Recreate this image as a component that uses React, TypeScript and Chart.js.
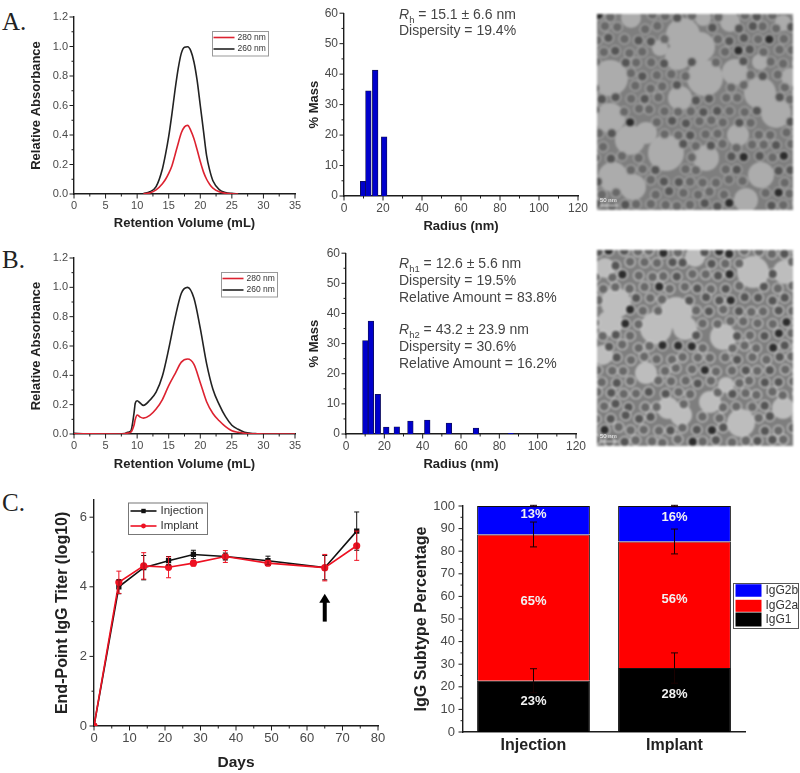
import React, { useEffect, useRef } from "react";
import { Chart, registerables } from "chart.js";

Chart.register(...registerables);

const SANS = '"Liberation Sans", Arial, sans-serif';
const SERIF = '"Liberation Serif", "Times New Roman", serif';

// --- Panel A, chromatogram
const volumeA = [11, 12, 13, 14, 14.5, 15, 15.5, 16, 16.5, 17, 17.5, 18, 18.5, 19, 19.5, 20, 20.5, 21, 21.5, 22, 23, 24, 25, 26];
const a260 = [0.003, 0.015, 0.05, 0.17, 0.27, 0.39, 0.54, 0.705, 0.85, 0.955, 0.995, 0.998, 0.97, 0.895, 0.77, 0.6, 0.43, 0.26, 0.16, 0.09, 0.03, 0.01, 0.004, 0.001];
const a280 = [0.001, 0.007, 0.028, 0.07, 0.1, 0.14, 0.19, 0.265, 0.343, 0.415, 0.455, 0.465, 0.43, 0.375, 0.3, 0.22, 0.15, 0.1, 0.065, 0.04, 0.015, 0.005, 0.001, 0];

// --- Panel B, chromatogram
const volumeB = [0, 2, 7, 8, 8.5, 9, 9.5, 9.7, 10, 10.5, 11, 12, 13, 14, 15, 16, 17, 18, 19, 20, 21, 22, 23, 24, 25, 26, 27, 28, 29, 30, 33, 35];
const b260 = [0.005, 0.002, 0, 0.003, 0.012, 0.02, 0.14, 0.21, 0.227, 0.21, 0.195, 0.23, 0.285, 0.395, 0.58, 0.79, 0.96, 1.0, 0.925, 0.72, 0.48, 0.305, 0.2, 0.118, 0.06, 0.032, 0.012, 0.004, 0.002, 0.001, 0.001, 0];
const b280 = [0.002, 0.001, 0, 0.002, 0.006, 0.012, 0.06, 0.1, 0.13, 0.115, 0.108, 0.127, 0.17, 0.235, 0.33, 0.41, 0.49, 0.511, 0.475, 0.35, 0.22, 0.14, 0.09, 0.05, 0.022, 0.012, 0.005, 0.002, 0.001, 0, 0, 0];

// --- Size histograms
const radiusA = [9.8, 12.5, 16, 20.6];
const massA = [4.8, 34.5, 41.3, 19.4];
const radiusB = [10.1, 13, 16.6, 21, 26.5, 33.6, 42.4, 53.7, 67.8, 86];
const massB = [31, 37.5, 13.2, 2.3, 2.4, 4.3, 4.6, 3.6, 2, 0.2];

// --- Panel C, titers
const days = [0, 7, 14, 21, 28, 37, 49, 65, 74];
const injection = [0, 4.0, 4.55, 4.75, 4.93, 4.87, 4.75, 4.55, 5.6];
const injectionErr = [0, 0.2, 0.35, 0.12, 0.12, 0.1, 0.13, 0.35, 0.55];
const implant = [0, 4.13, 4.6, 4.56, 4.68, 4.87, 4.68, 4.55, 5.18];
const implantErr = [0, 0.32, 0.38, 0.3, 0.08, 0.17, 0.07, 0.38, 0.42];
const arrowDay = 65;
const arrowFrom = 3.0;
const arrowTo = 3.8;

// --- Panel C, subtypes
const groups = ["Injection", "Implant"];
const igg1 = [22.7, 28.3];
const igg2a = [64.7, 56];
const igg2b = [12.6, 15.7];
const igg1Err = [5.3, 6.7];
const igg2aErr = [5.5, 5.5];
const igg2bErr = [0.3, 0.3];
const igg1Labels = ["23%", "28%"];
const igg2aLabels = ["65%", "56%"];
const igg2bLabels = ["13%", "16%"];
const igg1LabelY = [13.4, 16.7];
const igg2aLabelY = [57.6, 58.8];
const igg2bLabelY = [96.2, 94.9];

const TICK = "#4a4a4a";
const AXIS = "#1c1c1c";

const decor = {
  id: "decor",
  afterDatasetsDraw(chart: any, _a: any, o: any) {
    const ctx = chart.ctx;
    const ca = chart.chartArea;
    ctx.save();
    // major and minor outward ticks
    ctx.strokeStyle = AXIS;
    ctx.lineWidth = 1;
    const drawTicks = (id: string, major: number, minor: number) => {
      const s = chart.scales[id];
      const n = Math.round((s.max - s.min) / minor);
      for (let i = 0; i <= n; i++) {
        const v = s.min + i * minor;
        const isMajor = Math.abs(v / major - Math.round(v / major)) < 1e-6;
        const len = isMajor ? 4.5 : 2.5;
        const p = s.getPixelForValue(v);
        ctx.beginPath();
        if (id === "x") {
          ctx.moveTo(p, ca.bottom);
          ctx.lineTo(p, ca.bottom + len);
        } else {
          ctx.moveTo(ca.left, p);
          ctx.lineTo(ca.left - len, p);
        }
        ctx.stroke();
      }
    };
    if (o.xTicks) drawTicks("x", o.xTicks[0], o.xTicks[1]);
    if (o.yTicks) drawTicks("y", o.yTicks[0], o.yTicks[1]);

    // error bars on the titer lines
    (o.lineErrors || []).forEach((e: any) => {
      const ds = chart.data.datasets[e.index];
      ctx.strokeStyle = ds.borderColor;
      ctx.lineWidth = 1;
      ds.data.forEach((pt: any, i: number) => {
        const err = e.values[i];
        if (!err) return;
        const x = chart.scales.x.getPixelForValue(pt.x);
        const y1 = chart.scales.y.getPixelForValue(pt.y + err);
        const y2 = chart.scales.y.getPixelForValue(pt.y - err);
        ctx.beginPath();
        ctx.moveTo(x, y1);
        ctx.lineTo(x, y2);
        ctx.moveTo(x - 2.5, y1);
        ctx.lineTo(x + 2.5, y1);
        ctx.moveTo(x - 2.5, y2);
        ctx.lineTo(x + 2.5, y2);
        ctx.stroke();
      });
    });

    // error bars on the stacked bars
    (o.stackErrors || []).forEach((e: any) => {
      ctx.strokeStyle = "#1a0000";
      ctx.lineWidth = 1;
      e.values.forEach((err: number, i: number) => {
        let top = 0;
        for (let d = 0; d <= e.index; d++) top += chart.data.datasets[d].data[i];
        const x = chart.scales.x.getPixelForValue(i);
        const y1 = chart.scales.y.getPixelForValue(top + err);
        const y2 = chart.scales.y.getPixelForValue(top - err);
        ctx.beginPath();
        ctx.moveTo(x, y1);
        ctx.lineTo(x, y2);
        ctx.moveTo(x - 3.5, y1);
        ctx.lineTo(x + 3.5, y1);
        ctx.moveTo(x - 3.5, y2);
        ctx.lineTo(x + 3.5, y2);
        ctx.stroke();
      });
    });

    // percent labels
    (o.barLabels || []).forEach((l: any) => {
      ctx.fillStyle = "#f2f2f2";
      ctx.font = `bold 13px ${SANS}`;
      ctx.textAlign = "center";
      ctx.textBaseline = "middle";
      l.texts.forEach((t: string, i: number) => {
        ctx.fillText(t, chart.scales.x.getPixelForValue(i), chart.scales.y.getPixelForValue(l.y[i]));
      });
    });

    // arrow
    if (o.arrow) {
      const x = chart.scales.x.getPixelForValue(o.arrow.x);
      const y1 = chart.scales.y.getPixelForValue(o.arrow.from);
      const y2 = chart.scales.y.getPixelForValue(o.arrow.to);
      ctx.fillStyle = "#000";
      ctx.fillRect(x - 2, y2 + 6, 4, y1 - y2 - 6);
      ctx.beginPath();
      ctx.moveTo(x, y2);
      ctx.lineTo(x + 5.5, y2 + 9);
      ctx.lineTo(x - 5.5, y2 + 9);
      ctx.closePath();
      ctx.fill();
    }

    // legend, with its text coming from the datasets
    if (o.legend) {
      const g = o.legend;
      ctx.fillStyle = "#fff";
      ctx.strokeStyle = g.border;
      ctx.lineWidth = 1;
      ctx.fillRect(g.x, g.y, g.w, g.h);
      ctx.strokeRect(g.x, g.y, g.w, g.h);
      ctx.font = `${g.size}px ${SANS}`;
      ctx.textBaseline = "middle";
      ctx.textAlign = "left";
      g.items.forEach((it: any) => {
        const ds = chart.data.datasets[it.index];
        if (g.swatch) {
          ctx.fillStyle = ds.backgroundColor;
          ctx.fillRect(g.x + g.lineX, it.y - it.h / 2, g.lineW, it.h);
        } else {
          ctx.strokeStyle = ds.borderColor;
          ctx.lineWidth = ds.borderWidth;
          ctx.beginPath();
          ctx.moveTo(g.x + g.lineX, it.y);
          ctx.lineTo(g.x + g.lineX + g.lineW, it.y);
          ctx.stroke();
          if (g.marker) {
            ctx.fillStyle = ds.borderColor;
            const mx = g.x + g.lineX + g.lineW / 2;
            if (ds.pointStyle === "rect") ctx.fillRect(mx - 2.2, it.y - 2.2, 4.4, 4.4);
            else {
              ctx.beginPath();
              ctx.arc(mx, it.y, 2.4, 0, Math.PI * 2);
              ctx.fill();
            }
          }
        }
        ctx.fillStyle = "#333";
        ctx.fillText(ds.label, g.x + g.textX, it.y);
      });
    }
    ctx.restore();
  },
};

type Box = { l: number; t: number; r: number; b: number };

function scaleOpts(id: string, min: number, max: number, step: number, title: string | null, font: any, titleFont: any, pad: number, frame: Box, plot: Box) {
  const out: any = {
    type: "linear",
    min,
    max,
    offset: false,
    grid: { display: false, drawTicks: false },
    border: { display: true, color: AXIS, width: 1.4 },
    ticks: { stepSize: step, font, color: TICK, padding: pad, includeBounds: false, autoSkip: false, maxRotation: 0 },
    title: title ? { display: true, text: title, font: titleFont, color: "#222", padding: 0 } : { display: false },
    afterFit(s: any) {
      if (id === "x") s.height = frame.b - plot.b;
      else s.width = plot.l - frame.l;
    },
  };
  return out;
}

function pairs(xs: number[], ys: number[]) {
  return xs.map((x, i) => ({ x, y: ys[i] }));
}

function chromatogram(xs: number[], s280: number[], s260: number[], frame: Box, plot: Box, legendBox: any) {
  const tf = { family: SANS, size: 11 };
  const bf = { family: SANS, size: 13, weight: "bold" };
  const line = (label: string, data: number[], color: string) => ({
    label,
    data: pairs(xs, data),
    borderColor: color,
    backgroundColor: color,
    borderWidth: 1.6,
    pointRadius: 0,
    cubicInterpolationMode: "monotone",
  });
  const y = scaleOpts("y", 0, 1.2, 0.2, "Relative Absorbance", tf, bf, 6, frame, plot);
  y.ticks.callback = (v: number) => Number(v).toFixed(1);
  return {
    frame,
    config: {
      type: "line",
      data: { datasets: [line("280 nm", s280, "#dd2230"), line("260 nm", s260, "#222222")] },
      options: {
        scales: {
          x: scaleOpts("x", 0, 35, 5, "Retention Volume (mL)", tf, bf, 5, frame, plot),
          y,
        },
        plugins: { decor: { xTicks: [5, 2.5], yTicks: [0.2, 0.1], legend: legendBox } },
      },
    },
    plot,
  };
}

function histogram(xs: number[], ys: number[], frame: Box, plot: Box) {
  const tf = { family: SANS, size: 12 };
  const bf = { family: SANS, size: 13, weight: "bold" };
  return {
    frame,
    plot,
    config: {
      type: "bar",
      data: {
        datasets: [
          {
            label: "% Mass",
            data: pairs(xs, ys),
            backgroundColor: "#0000cc",
            borderColor: "#101050",
            borderWidth: 0.8,
            barThickness: 5.6,
          },
        ],
      },
      options: {
        scales: {
          x: scaleOpts("x", 0, 120, 20, "Radius (nm)", tf, bf, 5, frame, plot),
          y: scaleOpts("y", 0, 60, 10, "% Mass", tf, bf, 6, frame, plot),
        },
        plugins: { decor: { xTicks: [20, 10], yTicks: [10, 5] } },
      },
    },
  };
}

function titerChart() {
  const frame = { l: 53, t: 485, r: 395, b: 772 };
  const plot = { l: 94, t: 498, r: 378, b: 726 };
  const tf = { family: SANS, size: 13 };
  const xf = { family: SANS, size: 15.5, weight: "bold" };
  const yf = { family: SANS, size: 16, weight: "bold" };
  return {
    frame,
    plot,
    config: {
      type: "line",
      data: {
        datasets: [
          { label: "Injection", data: pairs(days, injection), borderColor: "#111111", backgroundColor: "#111111", borderWidth: 1.6, pointStyle: "rect", pointRadius: 2.6, order: 2 },
          { label: "Implant", data: pairs(days, implant), borderColor: "#ee1122", backgroundColor: "#ee1122", borderWidth: 1.6, pointStyle: "circle", pointRadius: 2.8, order: 1 },
        ],
      },
      options: {
        scales: {
          x: scaleOpts("x", 0, 80, 10, "Days", tf, xf, 5, frame, plot),
          y: scaleOpts("y", 0, 6.5, 2, "End-Point IgG Titer (log10)", tf, yf, 7, frame, plot),
        },
        plugins: {
          decor: {
            xTicks: [10, 5],
            yTicks: [2, 1],
            lineErrors: [
              { index: 0, values: injectionErr },
              { index: 1, values: implantErr },
            ],
            arrow: { x: arrowDay, from: arrowFrom, to: arrowTo },
            legend: {
              x: 75.5,
              y: 18,
              w: 79,
              h: 31.5,
              size: 11.5,
              border: "#777",
              lineX: 2,
              lineW: 26,
              textX: 32,
              marker: true,
              items: [
                { index: 0, y: 26 },
                { index: 1, y: 41 },
              ],
            },
          },
        },
      },
    },
  };
}

function subtypeChart() {
  const frame = { l: 412, t: 490, r: 800, b: 773 };
  const plot = { l: 463, t: 506, r: 745, b: 732 };
  const tf = { family: SANS, size: 13 };
  const bf = { family: SANS, size: 16, weight: "bold" };
  const bar = (label: string, data: number[], color: string) => ({
    label,
    data,
    backgroundColor: color,
    borderColor: "#111",
    borderWidth: 1,
    barPercentage: 0.8,
    categoryPercentage: 1,
  });
  const y = scaleOpts("y", 0, 100, 10, "IgG Subtype Percentage", tf, bf, 8, frame, plot);
  y.stacked = true;
  return {
    frame,
    plot,
    config: {
      type: "bar",
      data: {
        labels: groups,
        datasets: [bar("IgG1", igg1, "#000000"), bar("IgG2a", igg2a, "#ff0000"), bar("IgG2b", igg2b, "#0000ff")],
      },
      options: {
        scales: {
          x: {
            type: "category",
            stacked: true,
            offset: true,
            grid: { display: false, drawTicks: false },
            border: { display: true, color: AXIS, width: 1.4 },
            ticks: { font: { family: SANS, size: 16, weight: "bold" }, color: "#222", padding: 4, maxRotation: 0 },
            afterFit(s: any) {
              s.height = frame.b - plot.b;
            },
          },
          y,
        },
        plugins: {
          decor: {
            yTicks: [10, 5],
            stackErrors: [
              { index: 0, values: igg1Err },
              { index: 1, values: igg2aErr },
              { index: 2, values: igg2bErr },
            ],
            barLabels: [
              { texts: igg1Labels, y: igg1LabelY },
              { texts: igg2aLabels, y: igg2aLabelY },
              { texts: igg2bLabels, y: igg2bLabelY },
            ],
            legend: {
              x: 321.5,
              y: 93.5,
              w: 65,
              h: 45,
              size: 12,
              border: "#555",
              swatch: true,
              lineX: 2,
              lineW: 26,
              textX: 32,
              items: [
                { index: 2, y: 100.5, h: 12.5 },
                { index: 1, y: 115.8, h: 12 },
                { index: 0, y: 129.5, h: 14 },
              ],
            },
          },
        },
      },
    },
  };
}

function legendSmall(x: number, y: number) {
  return {
    x,
    y,
    w: 56,
    h: 24.5,
    size: 8.5,
    border: "#999",
    lineX: 1,
    lineW: 21,
    textX: 25,
    items: [
      { index: 0, y: y + 6 },
      { index: 1, y: y + 17.5 },
    ],
  };
}

const f1A = { l: 29, t: 0, r: 312, b: 231 };
const p1A = { l: 74, t: 17, r: 295, b: 194 };
const f1B = { l: 29, t: 240, r: 312, b: 472 };
const p1B = { l: 74, t: 258, r: 295, b: 434 };

const specs = [
  chromatogram(volumeA, a280, a260, f1A, p1A, legendSmall(212.5 - f1A.l, 31.5)),
  chromatogram(volumeB, b280, b260, f1B, p1B, legendSmall(221.5 - f1B.l, 272.5 - f1B.t)),
  histogram(radiusA, massA, { l: 307, t: 0, r: 595, b: 234 }, { l: 344, t: 8, r: 578, b: 196 }),
  histogram(radiusB, massB, { l: 307, t: 240, r: 595, b: 472 }, { l: 346, t: 250, r: 576, b: 434 }),
  titerChart(),
  subtypeChart(),
];

function Plot({ spec }: { spec: any }) {
  const ref = useRef<HTMLCanvasElement>(null);
  useEffect(() => {
    const { frame, plot, config } = spec;
    const chart = new Chart(ref.current as any, {
      ...config,
      plugins: [decor],
      options: {
        ...config.options,
        animation: false,
        responsive: false,
        maintainAspectRatio: false,
        layout: { padding: { top: plot.t - frame.t, right: frame.r - plot.r, left: 0, bottom: 0 } },
        plugins: { legend: { display: false }, tooltip: { enabled: false }, title: { display: false }, ...config.options.plugins },
      },
    } as any);
    return () => chart.destroy();
  }, [spec]);
  const { frame } = spec;
  return (
    <canvas
      ref={ref}
      width={frame.r - frame.l}
      height={frame.b - frame.t}
      style={{ position: "absolute", left: frame.l, top: frame.t, width: frame.r - frame.l, height: frame.b - frame.t, filter: "blur(0.4px)" }}
    />
  );
}

const gapsA = [
  [13, 64, 15], [86, 21, 14], [103, 33, 12], [81, 43, 10], [108, 64, 15], [83, 84, 9], [138, 58, 10], [163, 79, 13], [179, 99, 12],
  [13, 104, 12], [33, 126, 12], [49, 119, 8], [69, 139, 15], [109, 144, 10], [141, 121, 8], [164, 161, 10], [16, 163, 12], [36, 173, 10],
  [149, 186, 9], [34, 4, 7], [133, 8, 7], [106, 4, 5], [186, 9, 5], [163, 48, 5], [63, 34, 5], [193, 63, 6],
];
const gapsB = [
  [8, 18, 7], [19, 53, 12], [13, 73, 10], [6, 105, 7], [59, 78, 13], [79, 63, 13], [88, 78, 9], [126, 87, 10], [156, 22, 13],
  [188, 22, 9], [98, 7, 7], [49, 123, 8], [113, 152, 8], [71, 158, 8], [84, 165, 8], [144, 173, 11], [186, 158, 8], [129, 135, 5],
];

function Photo({ left, top, gaps, seed, ring, gapColor }: { left: number; top: number; gaps: number[][]; seed: number; ring: string; gapColor: string }) {
  const ref = useRef<HTMLCanvasElement>(null);
  useEffect(() => {
    const ctx = (ref.current as HTMLCanvasElement).getContext("2d") as CanvasRenderingContext2D;
    const S = 196;
    ctx.fillStyle = "#7e7e7e";
    ctx.fillRect(0, 0, S, S);
    const wob = (a: number, b: number) => Math.sin(a * 12.9898 + b * 78.233 + seed) * 43758.5453;
    const frac = (v: number) => v - Math.floor(v);
    const inGap = (x: number, y: number, extra: number) => gaps.some(([gx, gy, gr]) => Math.hypot(x - gx, y - gy) < gr + extra);
    ctx.fillStyle = gapColor;
    gaps.forEach(([gx, gy, gr]) => {
      ctx.beginPath();
      ctx.arc(gx, gy, gr + 3, 0, Math.PI * 2);
      ctx.fill();
    });
    for (let row = 0; row < 17; row++) {
      for (let col = 0; col < 16; col++) {
        const x = col * 13.4 + (row % 2) * 6.7 + (frac(wob(row, col)) - 0.5) * 4;
        const y = row * 11.8 + 2 + (frac(wob(col + 3, row + 7)) - 0.5) * 4;
        if (inGap(x, y, 3)) continue;
        const dark = frac(wob(row + 11, col + 5));
        const core = dark > 0.9 ? "#2c2c2c" : dark > 0.55 ? "#555555" : "#686868";
        ctx.strokeStyle = ring;
        ctx.lineWidth = 1.2;
        ctx.beginPath();
        ctx.arc(x, y, 5.2, 0, Math.PI * 2);
        ctx.stroke();
        ctx.fillStyle = core;
        ctx.beginPath();
        ctx.arc(x, y, 3.9, 0, Math.PI * 2);
        ctx.fill();
      }
    }
    ctx.fillStyle = "#f4f4f4";
    ctx.fillRect(3, S - 5, 18, 1);
  }, [gaps, seed, ring, gapColor]);
  return (
    <>
      <canvas ref={ref} width={196} height={196} style={{ position: "absolute", left, top, filter: "blur(0.9px)" }} />
      <div style={{ position: "absolute", left: left + 3, top: top + 183, fontFamily: SANS, fontSize: 6, lineHeight: "7px", color: "#f4f4f4" }}>50 nm</div>
    </>
  );
}

function Note({ x, y, children }: { x: number; y: number; children: React.ReactNode }) {
  return (
    <div style={{ position: "absolute", left: x, top: y - 9, height: 18, lineHeight: "18px", whiteSpace: "nowrap", fontFamily: SANS, fontSize: 14, color: "#444", filter: "blur(0.3px)" }}>
      {children}
    </div>
  );
}

const Sub = ({ children }: { children: React.ReactNode }) => <sub style={{ fontSize: 9.5, lineHeight: 0 }}>{children}</sub>;

function Letter({ y, children }: { y: number; children: React.ReactNode }) {
  return (
    <div style={{ position: "absolute", left: 2, top: y - 14, height: 28, lineHeight: "28px", fontFamily: SERIF, fontSize: 25, color: "#222" }}>{children}</div>
  );
}

export default function App() {
  return (
    <div style={{ position: "absolute", left: 0, top: 0, width: 800, height: 773, background: "#fff", overflow: "hidden" }}>
      {specs.map((s, i) => (
        <Plot key={i} spec={s} />
      ))}
      <Photo left={597} top={14} gaps={gapsA} seed={1.3} ring="#a6a6a6" gapColor="#acacac" />
      <Photo left={597} top={250} gaps={gapsB} seed={4.7} ring="#c8c8c8" gapColor="#bdbdbd" />
      <Letter y={22}>A.</Letter>
      <Letter y={260}>B.</Letter>
      <Letter y={503}>C.</Letter>
      <Note x={399} y={13.5}><i>R</i><Sub>h</Sub> = 15.1 ± 6.6 nm</Note>
      <Note x={399} y={30}>Dispersity = 19.4%</Note>
      <Note x={399} y={262.7}><i>R</i><Sub>h1</Sub> = 12.6 ± 5.6 nm</Note>
      <Note x={399} y={280}>Dispersity = 19.5%</Note>
      <Note x={399} y={296.7}>Relative Amount = 83.8%</Note>
      <Note x={399} y={329}><i>R</i><Sub>h2</Sub> = 43.2 ± 23.9 nm</Note>
      <Note x={399} y={345.7}>Dispersity = 30.6%</Note>
      <Note x={399} y={362.7}>Relative Amount = 16.2%</Note>
    </div>
  );
}
